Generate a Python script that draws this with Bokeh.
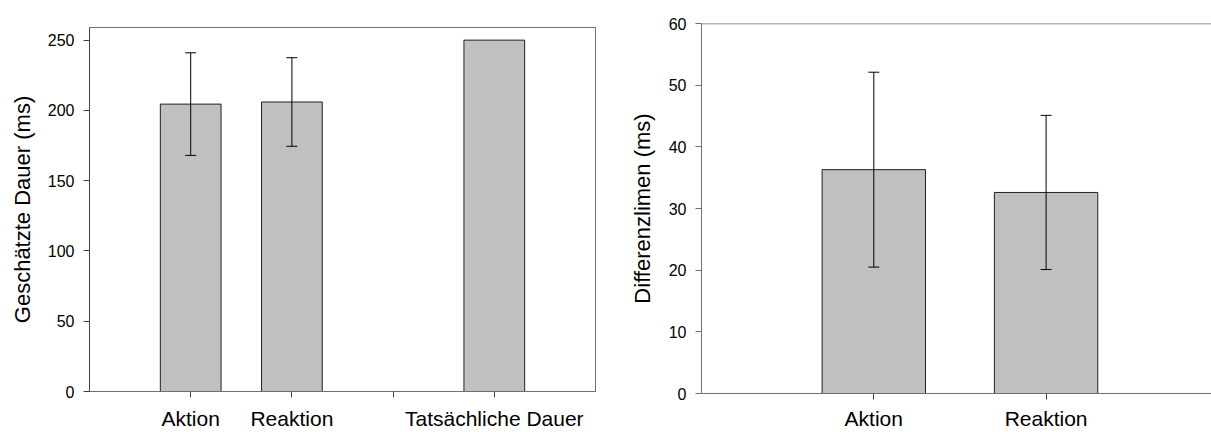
from bokeh.plotting import figure
from bokeh.models import ColumnDataSource, Whisker, TeeHead, FixedTicker, Span
from bokeh.layouts import row, column
from bokeh.embed import file_html
from bokeh.resources import INLINE

# ---------------- data ----------------
left_categories = ["Aktion", "Reaktion", "", "Tatsächliche Dauer"]
left_means = [204.5, 206.0, None, 250.0]
left_errors = [36.5, 31.5, None, None]
left_yticks = [0, 50, 100, 150, 200, 250]
left_ylabel = "Geschätzte Dauer (ms)"

right_categories = ["Aktion", "Reaktion"]
right_means = [36.3, 32.6]
right_errors = [15.8, 12.5]
right_yticks = [0, 10, 20, 30, 40, 50, 60]
right_ylabel = "Differenzlimen (ms)"

FONT = "Liberation Sans"
BAR_FILL = "#c0c0c0"
AXIS_COL = "#404040"
FRAME_COL = "#707070"


def build_sources(cats, means, errs):
    pos = [i + 1 for i in range(len(cats))]
    bx, btop = [], []
    wx, wup, wlo = [], [], []
    for x, m, e in zip(pos, means, errs):
        if m is not None:
            bx.append(x)
            btop.append(m)
            if e is not None:
                wx.append(x)
                wup.append(m + e)
                wlo.append(m - e)
    bars = ColumnDataSource(dict(x=bx, top=btop))
    whisk = ColumnDataSource(dict(x=wx, upper=wup, lower=wlo))
    return pos, bars, whisk


def make_fig(cats, means, errs, yticks, ylabel, width, height, x_end, y_end,
             mb_left, mb_right, mb_top, mb_bottom, outline,
             xlabel_standoff, ylabel_standoff, yaxis_col):
    pos, bars, whisk = build_sources(cats, means, errs)
    p = figure(width=width, height=height, x_range=(0, x_end), y_range=(0, y_end),
               output_backend="svg", toolbar_location=None,
               min_border_left=mb_left, min_border_right=mb_right,
               min_border_top=mb_top, min_border_bottom=mb_bottom)
    p.vbar(x="x", top="top", bottom=0, width=0.6, source=bars,
           fill_color=BAR_FILL, line_color="#202020", line_width=1)
    p.add_layout(Whisker(base="x", upper="upper", lower="lower", source=whisk,
                         dimension="height", level="overlay",
                         line_color="black", line_width=1,
                         upper_head=TeeHead(size=11, line_color="black", line_width=1),
                         lower_head=TeeHead(size=11, line_color="black", line_width=1)))
    p.xgrid.grid_line_color = None
    p.ygrid.grid_line_color = None
    p.background_fill_color = "white"
    p.border_fill_color = "white"
    if outline:
        p.outline_line_color = FRAME_COL
        p.outline_line_width = 1
    else:
        p.outline_line_color = None
        p.add_layout(Span(location=y_end, dimension="width",
                          line_color=FRAME_COL, line_width=1.5))

    # x axis
    p.xaxis.ticker = FixedTicker(ticks=pos)
    p.xaxis.major_label_overrides = {x: c for x, c in zip(pos, cats)}
    p.xaxis.major_label_text_font = FONT
    p.xaxis.major_label_text_font_size = "21px"
    p.xaxis.major_label_text_color = "black"
    p.xaxis.major_label_standoff = xlabel_standoff
    p.xaxis.major_tick_in = 0
    p.xaxis.major_tick_out = 6
    p.xaxis.minor_tick_line_color = None
    p.xaxis.axis_line_color = FRAME_COL
    p.xaxis.major_tick_line_color = AXIS_COL

    # y axis
    p.yaxis.ticker = FixedTicker(ticks=yticks)
    p.yaxis.axis_label = ylabel
    p.yaxis.axis_label_text_font = FONT
    p.yaxis.axis_label_text_font_size = "22px"
    p.yaxis.axis_label_text_font_style = "normal"
    p.yaxis.axis_label_text_color = "black"
    p.yaxis.axis_label_standoff = ylabel_standoff
    p.yaxis.major_label_text_font = FONT
    p.yaxis.major_label_text_font_size = "16px"
    p.yaxis.major_label_text_color = "black"
    p.yaxis.major_label_standoff = 9
    p.yaxis.major_tick_in = 0
    p.yaxis.major_tick_out = 6
    p.yaxis.minor_tick_line_color = None
    p.yaxis.axis_line_color = yaxis_col
    p.yaxis.major_tick_line_color = yaxis_col
    return p


p1 = make_fig(left_categories, left_means, left_errors, left_yticks, left_ylabel,
              width=615, height=432, x_end=5, y_end=259,
              mb_left=89, mb_right=20, mb_top=27, mb_bottom=40, outline=True,
              xlabel_standoff=9, ylabel_standoff=10, yaxis_col=AXIS_COL)
p2 = make_fig(right_categories, right_means, right_errors, right_yticks, right_ylabel,
              width=596, height=432, x_end=2.96, y_end=60,
              mb_left=86, mb_right=0, mb_top=23, mb_bottom=38, outline=False,
              xlabel_standoff=7, ylabel_standoff=11, yaxis_col=FRAME_COL)

layout = row(column(p1), column(p2))
open("out.html", "w").write(file_html(layout, INLINE))
